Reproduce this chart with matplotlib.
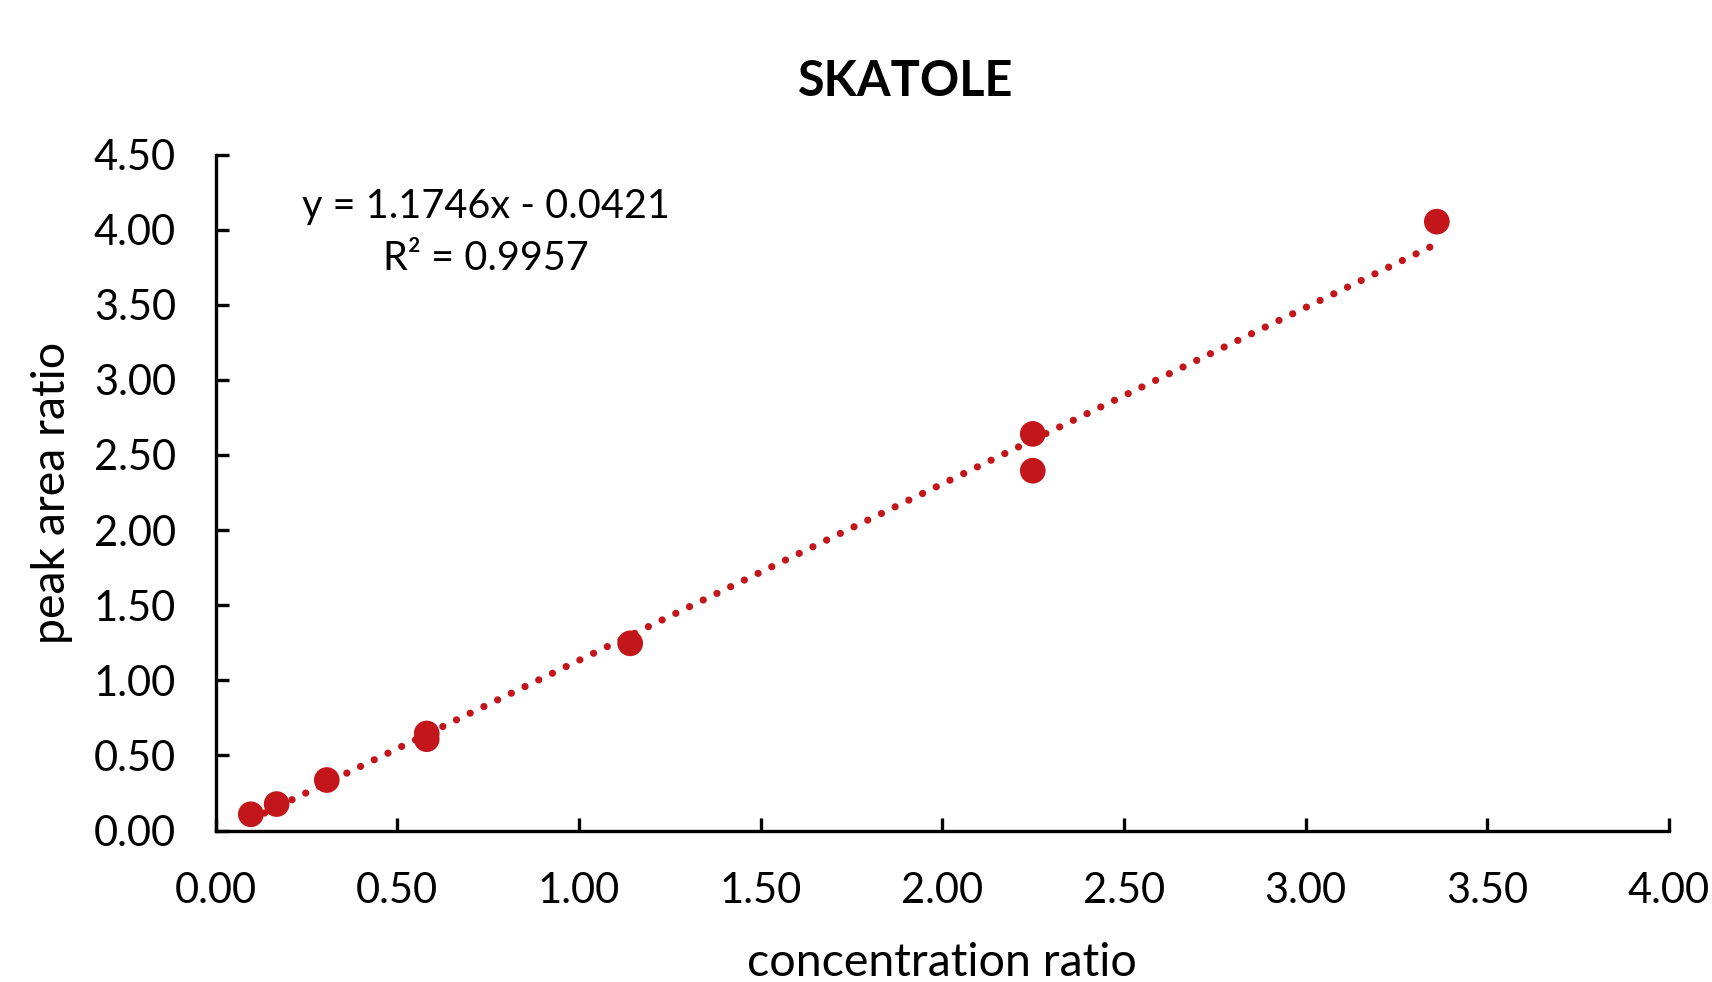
import numpy as np
import matplotlib
matplotlib.use("Agg")
import matplotlib.pyplot as plt

# Data
conc_ratio = [0.097, 0.168, 0.306, 0.581, 0.581, 1.141, 2.249, 2.249, 3.361]
peak_area_ratio = [0.108, 0.176, 0.336, 0.646, 0.608, 1.246, 2.640, 2.395, 4.053]
slope = 1.1746
intercept = -0.0421
r_squared = 0.9957
x_ticks = [0.0, 0.5, 1.0, 1.5, 2.0, 2.5, 3.0, 3.5, 4.0]
y_ticks = [0.0, 0.5, 1.0, 1.5, 2.0, 2.5, 3.0, 3.5, 4.0, 4.5]

RED = "#C3161A"
plt.rcParams["font.family"] = ["Lato", "DejaVu Sans"]

fig = plt.figure(figsize=(17.12, 9.82), dpi=100)
ax = fig.add_axes([215.6 / 1712, 1 - 830.5 / 982, (1669 - 215.6) / 1712, (830.5 - 154.5) / 982])

# trendline
xl = np.array([min(conc_ratio), max(conc_ratio)])
ax.plot(xl, slope * xl + intercept, color=RED, lw=5.2, linestyle=(0, (0.01, 2.1)),
        dash_capstyle="round", zorder=2)
ax.scatter(conc_ratio, peak_area_ratio, s=18.5 ** 2, color=RED, edgecolors="none", zorder=3)

ax.set_xlim(0, 4)
ax.set_ylim(0, 4.5)
ax.set_xticks(x_ticks)
ax.set_yticks(y_ticks)
ax.set_xticklabels([f"{v:.2f}" for v in x_ticks])
ax.set_yticklabels([f"{v:.2f}" for v in y_ticks])

for s in ["top", "right"]:
    ax.spines[s].set_visible(False)
for s in ["left", "bottom"]:
    ax.spines[s].set_linewidth(2.4)
    ax.spines[s].set_color("black")
ax.tick_params(axis="both", direction="in", length=9.5, width=2.4, labelsize=30, colors="black")
ax.tick_params(axis="y", pad=28.6)
ax.tick_params(axis="x", pad=30)

ax.set_xlabel("concentration ratio", fontsize=33.5)
ax.xaxis.set_label_coords((942 - 215.6) / 1453.4, (830.5 - 963) / 676)
ax.xaxis.label.set_va("center")
ax.set_ylabel("peak area ratio", fontsize=33.5)
ax.yaxis.set_label_coords((52 - 215.6) / 1453.4, 0.5)
ax.yaxis.label.set_va("center")

fig.text(906 / 1712, 1 - 82 / 982, "SKATOLE", fontsize=35, fontweight="bold",
         ha="center", va="center")

ax.text((486 - 215.6) / 1453.4, (830.5 - 233) / 676,
        f"y = {slope:.4f}x - {abs(intercept):.4f}\nR² = {r_squared:.4f}",
        transform=ax.transAxes, fontsize=28.5, ha="center", va="center",
        multialignment="center", linespacing=1.5)

fig.savefig("out.png", dpi=100, facecolor="white")
